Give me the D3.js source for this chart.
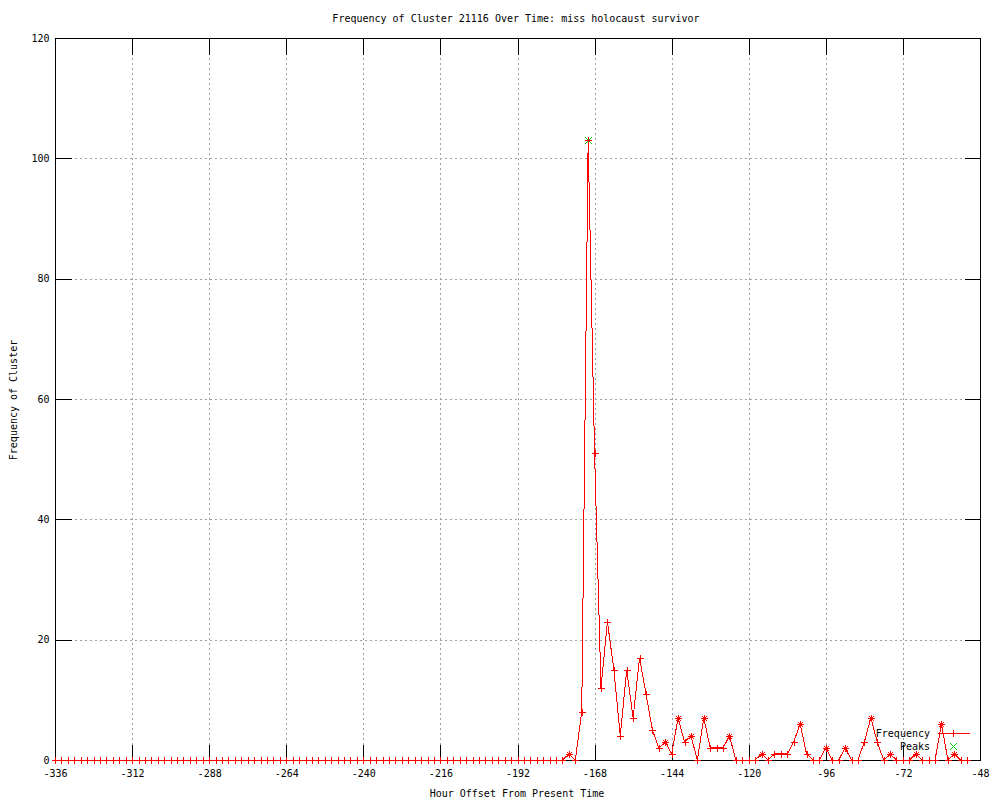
<!DOCTYPE html>
<html>
<head>
<meta charset="utf-8">
<script src="https://cdn.jsdelivr.net/npm/d3@7"></script>
<style>
  body { margin: 0; background: #fff; }
  svg { display: block; }
  text { font-family: "DejaVu Sans Mono", "Liberation Mono", monospace; font-size: 10px; fill: #000; }
</style>
</head>
<body>
<svg id="chart" width="1000" height="800"></svg>
<script>
// ---- data ----
const title = "Frequency of Cluster 21116 Over Time: miss holocaust survivor";
const xLabel = "Hour Offset From Present Time";
const yLabel = "Frequency of Cluster";
const xTicks = [-336, -312, -288, -264, -240, -216, -192, -168, -144, -120, -96, -72, -48];
const yTicks = [0, 20, 40, 60, 80, 100, 120];
const hours = d3.range(-336, -51, 2);
const freq = [
  0,0,0,0,0,0,0,0,0,0, 0,0,0,0,0,0,0,0,0,0,
  0,0,0,0,0,0,0,0,0,0, 0,0,0,0,0,0,0,0,0,0,
  0,0,0,0,0,0,0,0,0,0, 0,0,0,0,0,0,0,0,0,0,
  0,0,0,0,0,0,0,0,0,0, 0,0,0,0,0,0,0,0,0,0,
  1,0,8,103,51,12,23,15,4,15,
  7,17,11,5,2,3,1,7,3,4,
  0,7,2,2,2,4,0,0,0,0,
  1,0,1,1,1,3,6,1,0,0,
  2,0,0,2,0,0,3,7,3,0,
  1,0,0,0,1,0,0,0,6,0,
  1,0,0
];
const peakHours = [-170];
const peakValues = [103];
const starHours = [-176, -146, -142, -138, -134, -126, -116, -104, -96, -90, -82, -76, -68, -60, -56];

// ---- layout ----
const svg = d3.select("#chart");
const L = 55, R = 980, T = 38, B = 760;
const x = d3.scaleLinear().domain([-336, -48]).range([L, R]);
const y = d3.scaleLinear().domain([0, 120]).range([B, T]);
const tickLen = 16;
const RED = "#ff0000", GREEN = "#00cc00";

const pts = hours.map((h, i) => ({h, v: freq[i]}));

// grid
const grid = svg.append("g").attr("stroke", "#a0a0a0").attr("stroke-dasharray", "2,3").attr("shape-rendering", "crispEdges");
xTicks.slice(1, -1).forEach(t => {
  grid.append("line").attr("x1", Math.round(x(t)) + 0.5).attr("x2", Math.round(x(t)) + 0.5).attr("y1", T).attr("y2", B);
});
yTicks.slice(1, -1).forEach(t => {
  grid.append("line").attr("x1", L).attr("x2", R).attr("y1", Math.round(y(t)) + 0.5).attr("y2", Math.round(y(t)) + 0.5);
});

// axes with inward ticks
const axB = svg.append("g").attr("transform", `translate(0,${B + 0.5})`)
  .call(d3.axisBottom(x).tickValues(xTicks).tickSizeInner(-tickLen).tickSizeOuter(0).tickFormat(d => String(d)));
const axT = svg.append("g").attr("transform", `translate(0,${T + 0.5})`)
  .call(d3.axisTop(x).tickValues(xTicks).tickSizeInner(-tickLen).tickSizeOuter(0).tickFormat(""));
const axL = svg.append("g").attr("transform", `translate(${L + 0.5},0)`)
  .call(d3.axisLeft(y).tickValues(yTicks).tickSizeInner(-tickLen).tickSizeOuter(0).tickFormat(d => String(d)));
const axR = svg.append("g").attr("transform", `translate(${R + 0.5},0)`)
  .call(d3.axisRight(y).tickValues(yTicks).tickSizeInner(-tickLen).tickSizeOuter(0).tickFormat(""));
[axB, axT, axL, axR].forEach(a => {
  a.selectAll("path").remove();
  a.selectAll("line").attr("stroke", "#000").attr("shape-rendering", "crispEdges");
  a.selectAll("text").attr("font-family", "DejaVu Sans Mono").attr("font-size", 10).attr("fill", "#000");
});
axB.selectAll(".tick text").attr("y", 16).attr("dy", "0");
axL.selectAll(".tick text").attr("x", -6).attr("dy", "0.32em");

// border
svg.append("rect").attr("x", L + 0.5).attr("y", T + 0.5).attr("width", R - L).attr("height", B - T)
  .attr("fill", "none").attr("stroke", "#000").attr("shape-rendering", "crispEdges");

// frequency line
const line = d3.line().x(d => x(d.h)).y(d => y(d.v));
svg.append("path").datum(pts).attr("d", line).attr("fill", "none").attr("stroke", RED).attr("stroke-width", 1).attr("shape-rendering", "crispEdges");

function plus(g, cx, cy, q, c) {
  g.append("line").attr("x1", cx - q).attr("x2", cx + q).attr("y1", cy).attr("y2", cy).attr("stroke", c);
  g.append("line").attr("x1", cx).attr("x2", cx).attr("y1", cy - q).attr("y2", cy + q).attr("stroke", c);
}
function cross(g, cx, cy, q, c) {
  g.append("line").attr("x1", cx - q).attr("x2", cx + q).attr("y1", cy - q).attr("y2", cy + q).attr("stroke", c);
  g.append("line").attr("x1", cx - q).attr("x2", cx + q).attr("y1", cy + q).attr("y2", cy - q).attr("stroke", c);
}

// peaks: green x (under the red plus)
const pk = svg.append("g").attr("stroke-width", 1).attr("shape-rendering", "crispEdges");
peakHours.forEach((h, i) => cross(pk, Math.round(x(h)) + 0.5, Math.round(y(peakValues[i])) + 0.5, 3.5, GREEN));

// plus markers + stars
const s = 3.5;
const mk = svg.append("g").attr("stroke-width", 1).attr("shape-rendering", "crispEdges");
pts.forEach(d => {
  const cx = Math.round(x(d.h)) + 0.5, cy = Math.round(y(d.v)) + 0.5;
  plus(mk, cx, cy, s, RED);
  if (starHours.includes(d.h)) cross(mk, cx, cy, 2.5, RED);
});

// legend
const lg = svg.append("g").attr("shape-rendering", "crispEdges").attr("stroke-width", 1);
lg.append("text").attr("x", 930).attr("y", 737).attr("text-anchor", "end").text("Frequency");
lg.append("line").attr("x1", 938).attr("x2", 970).attr("y1", 733.5).attr("y2", 733.5).attr("stroke", RED);
plus(lg, 953.5, 733.5, 3.5, RED);
lg.append("text").attr("x", 930).attr("y", 750).attr("text-anchor", "end").text("Peaks");
cross(lg, 953.5, 746.5, 3.5, GREEN);

// titles
svg.append("text").attr("x", 516).attr("y", 22).attr("text-anchor", "middle").text(title);
svg.append("text").attr("x", 517).attr("y", 797).attr("text-anchor", "middle").text(xLabel);
svg.append("text").attr("transform", "translate(17,400) rotate(-90)").attr("text-anchor", "middle").text(yLabel);
</script>
</body>
</html>
